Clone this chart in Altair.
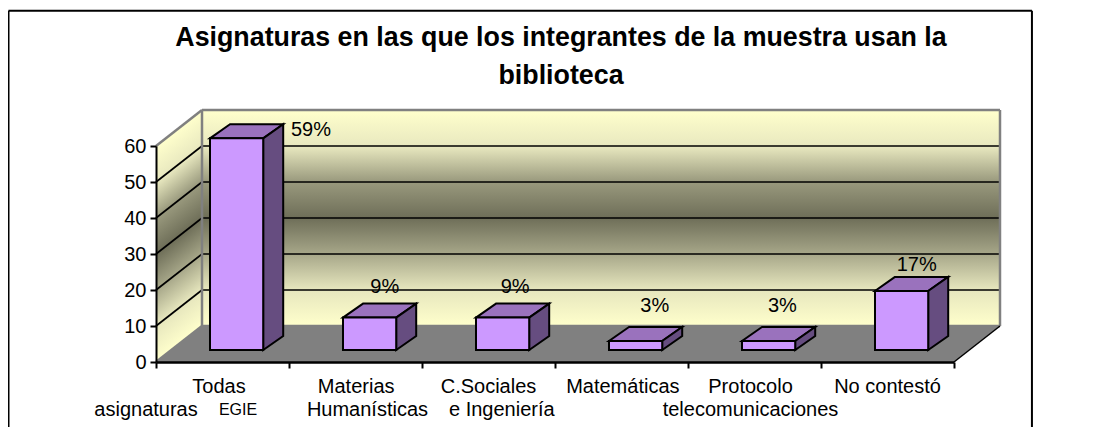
import altair as alt
import pandas as pd

# ---- values ----
categories = ["Todas asignaturas EGIE", "Materias Humanísticas", "C.Sociales e Ingeniería",
              "Matemáticas", "Protocolo telecomunicaciones", "No contestó"]
bar_values = [58.8, 9, 9, 2.5, 2.5, 16.4]
pct_labels = ["59%", "9%", "9%", "3%", "3%", "17%"]
pct_x = [1.165, 1.72, 2.70, 3.75, 4.71, 5.72]
pct_y = [64.4, 20.8, 20.8, 15.6, 15.6, 27.0]
line1 = ["Todas", "Materias", "C.Sociales", "Matemáticas", "Protocolo", "No contestó"]
line1_x = [0.474, 1.505, 2.50, 3.51, 4.47, 5.50]
line2 = ["asignaturas", "Humanísticas", "e Ingeniería", "telecomunicaciones"]
line2_x = [-0.075, 1.59, 2.60, 4.47]
y_ticks = [0, 10, 20, 30, 40, 50, 60]
x_ticks = [0, 1, 2, 3, 4, 5, 6]
title_lines = ["Asignaturas en las que los integrantes de la muestra usan la", "biblioteca"]

# ---- oblique projection constants (data units) ----
WALL_DX, WALL_DY = 46 / 133, 10.0
BAR_DX, BAR_DY = 20 / 133, 3.9
BAR_LEFT, BAR_W, BAR_BASE = 0.406, 0.40, 3.33
YMAX, XMAX = 60, 6
FONT = "Liberation Sans"

sx = alt.Scale(domain=[0, XMAX], nice=False, zero=False)
sy = alt.Scale(domain=[0, YMAX], nice=False, zero=False)
x_axis = alt.Axis(values=x_ticks, labels=False, grid=False, domainColor="#000000", domainWidth=2.5,
                  tickColor="#000000", tickWidth=2, tickSize=6, zindex=1, title=None)
y_axis = alt.Axis(values=y_ticks, grid=False, domainColor="#000000", domainWidth=2,
                  tickColor="#000000", tickWidth=2, tickSize=6, labelPadding=4, labelFont=FONT,
                  labelFontSize=20, labelColor="#000000", zindex=1, title=None)
X = alt.X("x:Q", scale=sx, axis=x_axis)
X_NS = alt.X("x:Q", scale=sx, axis=x_axis, stack=None)
X2 = alt.X2("x2:Q")
Y = alt.Y("y:Q", scale=sy, axis=y_axis, stack=None)
Y2 = alt.Y2("y2:Q")


def grad(stops, x1=0.0, y1=0.0, x2=0.0, y2=1.0):
    return alt.LinearGradient(gradient="linear", x1=x1, y1=y1, x2=x2, y2=y2,
                              stops=[alt.GradientStop(offset=o, color=c) for o, c in stops])


wall_stops = [(0, "#ffffcc"), (0.17, "#e8e8bf"), (0.33, "#9a9a7e"), (0.5, "#6e6e58"),
              (0.67, "#a8a88a"), (0.83, "#e6e6bd"), (1, "#ffffcc")]

# back wall
back = alt.Chart(pd.DataFrame([{"x": WALL_DX, "x2": XMAX + WALL_DX, "y": WALL_DY, "y2": YMAX + WALL_DY}])).mark_rect(
    fill=grad(wall_stops)).encode(x=X, x2=X2, y=Y, y2=Y2)

# side wall
side = alt.Chart(pd.DataFrame([
    {"x": 0, "y": 0, "y2": YMAX},
    {"x": WALL_DX, "y": WALL_DY, "y2": YMAX + WALL_DY},
])).mark_area(fill=grad(wall_stops, 0, 0.143, 0.12, 0.983)).encode(x=X, y=Y, y2=Y2)

# floor
floor = alt.Chart(pd.DataFrame([
    {"y": 0, "x": 0, "x2": XMAX},
    {"y": WALL_DY, "x": WALL_DX, "x2": XMAX + WALL_DX},
])).mark_area(orient="horizontal", fill="#808080").encode(y=Y, x=X_NS, x2=X2)


def rules(rows, color, width):
    return alt.Chart(pd.DataFrame(rows)).mark_rule(color=color, strokeWidth=width).encode(x=X, x2=X2, y=Y, y2=Y2)


grid_side = rules([{"x": 0, "x2": WALL_DX, "y": v, "y2": v + WALL_DY} for v in y_ticks[1:-1]], "#000000", 1.7)
grid_back = rules([{"x": WALL_DX, "x2": XMAX + WALL_DX, "y": v + WALL_DY, "y2": v + WALL_DY}
                   for v in y_ticks[1:-1]], "#000000", 1.7)
border_gray = rules([
    {"x": WALL_DX, "x2": XMAX + WALL_DX, "y": YMAX + WALL_DY, "y2": YMAX + WALL_DY},
    {"x": XMAX + WALL_DX, "x2": XMAX + WALL_DX, "y": WALL_DY, "y2": YMAX + WALL_DY},
    {"x": WALL_DX, "x2": WALL_DX, "y": WALL_DY, "y2": YMAX + WALL_DY},
    {"x": WALL_DX, "x2": XMAX + WALL_DX, "y": WALL_DY, "y2": WALL_DY},
    {"x": 0, "x2": WALL_DX, "y": 0, "y2": WALL_DY},
    {"x": 0, "x2": WALL_DX, "y": YMAX, "y2": YMAX + WALL_DY},
], "#808080", 2.5)
floor_edge = rules([{"x": XMAX, "x2": XMAX + WALL_DX, "y": 0, "y2": WALL_DY}], "#000000", 1.5)

# bars: front, top and side faces
front_rows, top_rows, side_rows = [], [], []
for i, v in enumerate(bar_values):
    l = i + BAR_LEFT
    r = l + BAR_W
    b = BAR_BASE
    t = BAR_BASE + v
    front_rows.append({"x": l, "x2": r, "y": b, "y2": t})
    top_rows += [{"id": i, "y": t, "x": l, "x2": r},
                 {"id": i, "y": t + BAR_DY, "x": l + BAR_DX, "x2": r + BAR_DX}]
    side_rows += [{"id": i, "x": r, "y": b, "y2": t},
                  {"id": i, "x": r + BAR_DX, "y": b + BAR_DY, "y2": t + BAR_DY}]

bar_top = alt.Chart(pd.DataFrame(top_rows)).mark_area(
    orient="horizontal", fill="#9a72bd", stroke="#000000", strokeWidth=2).encode(
    y=Y, x=X_NS, x2=X2, detail="id:N")
bar_side = alt.Chart(pd.DataFrame(side_rows)).mark_area(
    fill="#664d80", stroke="#000000", strokeWidth=2).encode(x=X, y=Y, y2=Y2, detail="id:N")
bar_front = alt.Chart(pd.DataFrame(front_rows)).mark_rect(
    fill="#cc99ff", stroke="#000000", strokeWidth=2).encode(x=X, x2=X2, y=Y, y2=Y2)


def texts(xs, ys, labels, size, **kw):
    df = pd.DataFrame({"x": xs, "y": ys, "t": labels})
    return alt.Chart(df).mark_text(font=FONT, fontSize=size, color="#000000", baseline="middle", **kw).encode(
        x=X, y=Y, text="t:N")


pct = texts(pct_x, pct_y, pct_labels, 20)
row1 = texts(line1_x, [-6.94] * 6, line1, 20)
row2 = texts(line2_x, [-13.33] * 4, line2, 20)
row2b = texts([0.617], [-13.33], ["EGIE"], 16)

# outer frame (runs past the bottom of the picture)
frame = rules([
    {"x": -1.109, "x2": -1.109, "y": -18.1, "y2": 97.6},
    {"x": 6.586, "x2": 6.586, "y": -18.1, "y2": 97.6},
    {"x": -1.109, "x2": 6.586, "y": 97.6, "y2": 97.6},
], "#000000", 2)

chart = alt.layer(
    back, side, floor, grid_side, grid_back, border_gray, floor_edge,
    bar_top, bar_side, bar_front, pct, row1, row2, row2b, frame,
).resolve_scale(x="shared", y="shared").properties(
    width=798, height=216,
    padding={"left": 148, "top": 138, "right": 134, "bottom": 65},
    autosize=alt.AutoSizeParams(type="none"),
    background="#ffffff",
    title=alt.TitleParams(text=title_lines, font=FONT, fontSize=26.8, fontWeight="bold", color="#000000",
                          anchor="middle", offset=-80, lineHeight=38, dx=6),
).configure_view(strokeWidth=0)

chart.save("out.html", embed_options={"renderer": "svg", "actions": False})
